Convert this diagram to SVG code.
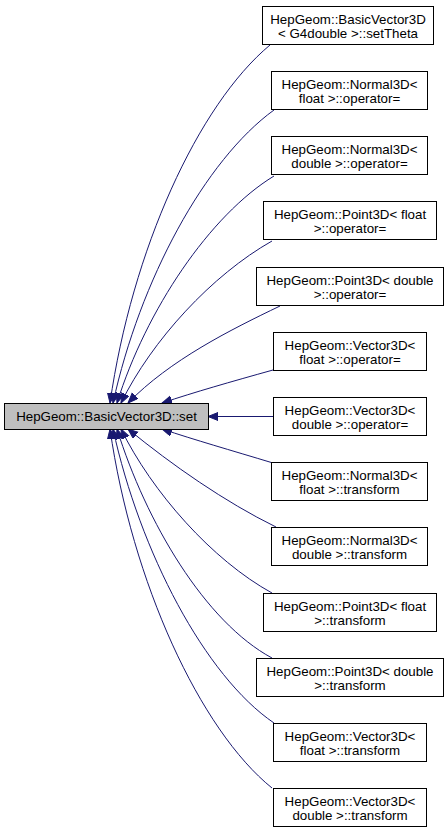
<svg xmlns="http://www.w3.org/2000/svg" width="448" height="835" viewBox="0 0 448 835">
<style>
.n rect{fill:#ffffff;stroke:#000000;stroke-width:1}
#root rect{fill:#bfbfbf;stroke:#000000;stroke-width:1}
text{font-family:"Liberation Sans",Arial,sans-serif;font-size:13.33px;fill:#000000;text-anchor:middle}
.e path{fill:none;stroke:#191970;stroke-width:1;marker-end:url(#ah)}
</style>
<defs>
<marker id="ah" markerUnits="userSpaceOnUse" markerWidth="12" markerHeight="9" refX="10" refY="4" orient="auto">
<path d="M0,0 L10,4 L0,8 z" fill="#191970" stroke="#191970" stroke-width="1"/>
</marker>
</defs>
<rect width="448" height="835" fill="#ffffff"/>
<g class="e" id="edges">
<path d="M270,45 C198,105 132,250 110,403"/>
<path d="M274,110 C205,160 140,280 113,403"/>
<path d="M274,176 C210,215 146,310 117,403"/>
<path d="M272,241 C212,275 152,340 121,403"/>
<path d="M280,306 C230,330 170,360 128,403"/>
<path d="M273,370 C230,382 195,392 162,403"/>
<path d="M273,416.5 L208,416.5"/>
<path d="M273,463 C230,450 195,440 162,429"/>
<path d="M276,527 C225,502 172,465 128,429"/>
<path d="M272,593 C212,560 152,492 121,429"/>
<path d="M272,658 C205,622 146,522 117,429"/>
<path d="M274,723 C205,676 140,552 113,429"/>
<path d="M272,788 C200,730 132,582 110,429"/>
</g>
<g id="root"><rect x="4.5" y="403.5" width="204" height="26"/><text x="106.5" y="421">HepGeom::BasicVector3D::set</text></g>
<g class="n" id="n1"><rect x="262.5" y="6.5" width="171" height="38"/><text x="348" y="23.5">HepGeom::BasicVector3D</text><text x="348" y="37.5">&lt; G4double &gt;::setTheta</text></g>
<g class="n" id="n2"><rect x="271.5" y="71.5" width="156" height="38"/><text x="349.5" y="88.5">HepGeom::Normal3D&lt;</text><text x="349.5" y="102.5">float &gt;::operator=</text></g>
<g class="n" id="n3"><rect x="271.5" y="136.5" width="156" height="38"/><text x="349.5" y="153.5">HepGeom::Normal3D&lt;</text><text x="349.5" y="167.5">double &gt;::operator=</text></g>
<g class="n" id="n4"><rect x="263.5" y="201.5" width="173" height="38"/><text x="350" y="218.5">HepGeom::Point3D&lt; float</text><text x="350" y="232.5">&gt;::operator=</text></g>
<g class="n" id="n5"><rect x="256.5" y="267.5" width="187" height="38"/><text x="350" y="284.5">HepGeom::Point3D&lt; double</text><text x="350" y="298.5">&gt;::operator=</text></g>
<g class="n" id="n6"><rect x="273.5" y="332.5" width="153" height="38"/><text x="350" y="349.5">HepGeom::Vector3D&lt;</text><text x="350" y="363.5">float &gt;::operator=</text></g>
<g class="n" id="n7"><rect x="273.5" y="397.5" width="153" height="38"/><text x="350" y="414.5">HepGeom::Vector3D&lt;</text><text x="350" y="428.5">double &gt;::operator=</text></g>
<g class="n" id="n8"><rect x="271.5" y="462.5" width="156" height="38"/><text x="349.5" y="479.5">HepGeom::Normal3D&lt;</text><text x="349.5" y="493.5">float &gt;::transform</text></g>
<g class="n" id="n9"><rect x="271.5" y="527.5" width="156" height="38"/><text x="349.5" y="544.5">HepGeom::Normal3D&lt;</text><text x="349.5" y="558.5">double &gt;::transform</text></g>
<g class="n" id="n10"><rect x="263.5" y="593.5" width="173" height="38"/><text x="350" y="610.5">HepGeom::Point3D&lt; float</text><text x="350" y="624.5">&gt;::transform</text></g>
<g class="n" id="n11"><rect x="256.5" y="658.5" width="187" height="38"/><text x="350" y="675.5">HepGeom::Point3D&lt; double</text><text x="350" y="689.5">&gt;::transform</text></g>
<g class="n" id="n12"><rect x="273.5" y="723.5" width="153" height="38"/><text x="350" y="740.5">HepGeom::Vector3D&lt;</text><text x="350" y="754.5">float &gt;::transform</text></g>
<g class="n" id="n13"><rect x="273.5" y="788.5" width="153" height="38"/><text x="350" y="805.5">HepGeom::Vector3D&lt;</text><text x="350" y="819.5">double &gt;::transform</text></g>
</svg>
